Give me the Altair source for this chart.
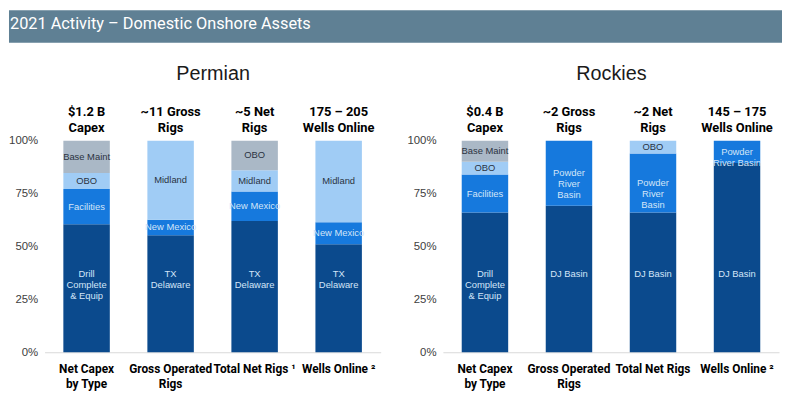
import json
import altair as alt
import pandas as pd

TITLE = "2021 Activity – Domestic Onshore Assets"

# ---- Permian ----
P_NAME = "Permian"
P_CATS = ["Net Capex|by Type", "Gross Operated|Rigs", "Total Net Rigs ¹", "Wells Online ²"]
P_HEADERS = ["$1.2 B|Capex", "~11 Gross|Rigs", "~5 Net|Rigs", "175 – 205|Wells Online"]
P_CAPEX_LABELS = ["Drill|Complete|& Equip", "Facilities", "OBO", "Base Maint"]
P_CAPEX_VALUES = [60.5, 16.7, 7.5, 15.3]
P_GROSS_LABELS = ["TX|Delaware", "New Mexico", "Midland"]
P_GROSS_VALUES = [55.3, 7.3, 37.4]
P_NET_LABELS = ["TX|Delaware", "New Mexico", "Midland", "OBO"]
P_NET_VALUES = [62, 14, 10, 14]
P_WELLS_LABELS = ["TX|Delaware", "New Mexico", "Midland"]
P_WELLS_VALUES = [51, 10.5, 38.5]

# ---- Rockies ----
R_NAME = "Rockies"
R_CATS = ["Net Capex|by Type", "Gross Operated|Rigs", "Total Net Rigs", "Wells Online ²"]
R_HEADERS = ["$0.4 B|Capex", "~2 Gross|Rigs", "~2 Net|Rigs", "145 – 175|Wells Online"]
R_CAPEX_LABELS = ["Drill|Complete|& Equip", "Facilities", "OBO", "Base Maint"]
R_CAPEX_VALUES = [66, 18, 6, 10]
R_GROSS_LABELS = ["DJ Basin", "Powder|River|Basin"]
R_GROSS_VALUES = [69.3, 30.7]
R_NET_LABELS = ["DJ Basin", "Powder|River|Basin", "OBO"]
R_NET_VALUES = [66, 28, 6]
R_WELLS_LABELS = ["DJ Basin", "Powder|River Basin"]
R_WELLS_VALUES = [89.4, 10.6]

BOTTOM_LABEL_AT = 36.8  # where the bottom segment's label sits (%)

TIER_COLORS = ["#0B4A8D", "#1679DD", "#A0CCF5", "#AAB8C6"]
HEADER_FILL = "#5F8094"
FONT = "Liberation Sans"
BOLD = "Roboto"

PW, PH = 340, 214  # plot area of each panel


def build_df(cats, segs):
    rows = []
    for cat, (labels, values) in zip(cats, segs):
        cum = 0
        for t, (lab, v) in enumerate(zip(labels, values), start=1):
            mid = BOTTOM_LABEL_AT if t == 1 else cum + v / 2
            rows.append(dict(cat=cat, tier=t, value=v, label=lab, label_y=mid))
            cum += v
    return pd.DataFrame(rows)


def panel(name, cats, headers, segs, with_header=False):
    df = build_df(cats, segs)
    hdr = pd.DataFrame({"cat": cats})
    xscale = alt.Scale(domain=cats, paddingInner=0.447, paddingOuter=0.2235)
    yscale = alt.Scale(domain=[0, 100], nice=False)
    yaxis = alt.Axis(values=[0, 25, 50, 75, 100], labelExpr="datum.value + '%'",
                     domain=False, ticks=False, grid=False, title=None,
                     labelPadding=7, labelFont=FONT, labelFontSize=11.5,
                     labelColor="#404040")
    bottom_axis = alt.Axis(orient="bottom", title=None, labelAngle=0,
                           labelExpr="split(datum.value, '|')",
                           domain=True, domainColor="#D9D9D9", domainWidth=1,
                           ticks=False, labelPadding=12, labelLineHeight=15,
                           labelFont=BOLD, labelFontWeight="bold",
                           labelFontSize=12, labelColor="#000000")
    top_expr = "split(%s[indexof(%s, datum.value)], '|')" % (
        json.dumps(headers, ensure_ascii=False), json.dumps(cats, ensure_ascii=False))
    top_axis = alt.Axis(orient="top", labelAngle=0, labelExpr=top_expr,
                        domain=False, ticks=False, labelPadding=22,
                        labelLineHeight=16, labelFont=BOLD,
                        labelFontWeight="bold", labelFontSize=13,
                        labelColor="#000000",
                        title=name, titleFont=FONT, titleFontSize=20,
                        titleFontWeight="normal", titleColor="#1A1A1A",
                        titleX=PW / 2, titleY=-68, titleBaseline="middle",
                        titleAlign="center")
    base = alt.Chart(df)
    bars = base.mark_bar().encode(
        x=alt.X("cat:N", scale=xscale, sort=cats, axis=bottom_axis),
        y=alt.Y("value:Q", stack="zero", scale=yscale, axis=yaxis),
        color=alt.Color("tier:O", scale=alt.Scale(domain=[1, 2, 3, 4], range=TIER_COLORS),
                        legend=None),
        order=alt.Order("tier:Q", sort="ascending"),
    )
    texts = base.mark_text(font=FONT, fontSize=9.5, lineBreak="|", lineHeight=11,
                           baseline="middle", align="center").encode(
        x=alt.X("cat:N", scale=xscale, sort=cats, axis=None),
        y=alt.Y("label_y:Q", scale=yscale, axis=yaxis),
        text="label:N",
        color=alt.condition("datum.tier <= 2", alt.value("#D3E5F8"), alt.value("#2A3342")),
    )
    top = alt.Chart(hdr).mark_point(opacity=0).encode(
        x=alt.X("cat:N", scale=xscale, sort=cats, axis=top_axis),
    )
    layers = [bars, texts, top]
    if with_header:
        hd = pd.DataFrame({"t": [TITLE]})
        band = alt.Chart(hd).mark_rect(color=HEADER_FILL).encode(
            x=alt.value(-36), x2=alt.value(746), y=alt.value(-132), y2=alt.value(-99))
        htxt = alt.Chart(hd).mark_text(align="left", baseline="alphabetic", font=BOLD,
                                       fontSize=16.5, color="#FFFFFF").encode(
            text="t:N", x=alt.value(-35), y=alt.value(-113))
        layers = [band, htxt] + layers
    return alt.layer(*layers).resolve_axis(x="independent").properties(width=PW, height=PH)


left = panel(P_NAME, P_CATS, P_HEADERS, [
    (P_CAPEX_LABELS, P_CAPEX_VALUES), (P_GROSS_LABELS, P_GROSS_VALUES),
    (P_NET_LABELS, P_NET_VALUES), (P_WELLS_LABELS, P_WELLS_VALUES)], with_header=True)
right = panel(R_NAME, R_CATS, R_HEADERS, [
    (R_CAPEX_LABELS, R_CAPEX_VALUES), (R_GROSS_LABELS, R_GROSS_VALUES),
    (R_NET_LABELS, R_NET_VALUES), (R_WELLS_LABELS, R_WELLS_VALUES)])

chart = alt.hconcat(left, right, spacing=63, bounds="flush").properties(
    padding=0, background="#FFFFFF"
).configure_view(stroke=None)

chart.save("out.html", embed_options={"renderer": "svg", "actions": False})
